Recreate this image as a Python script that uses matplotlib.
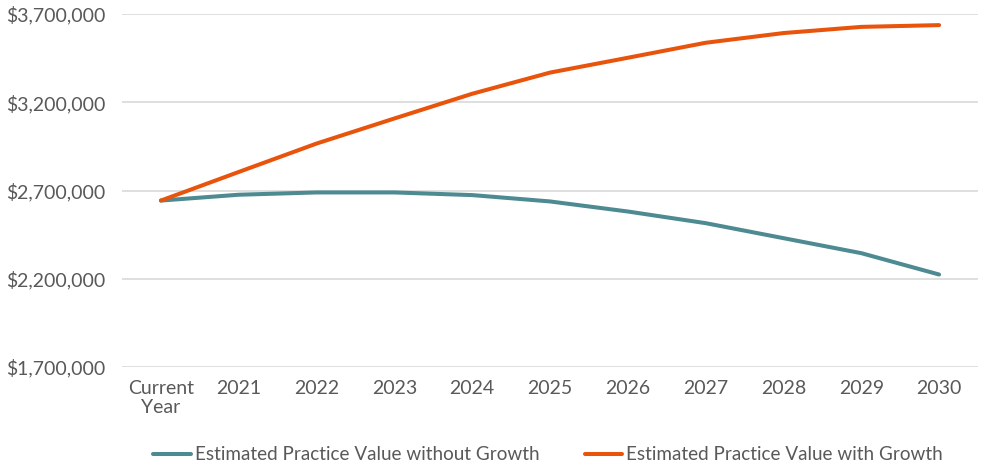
import numpy as np
import matplotlib.pyplot as plt
from matplotlib.ticker import FuncFormatter

# values
categories = ['Current\nYear', '2021', '2022', '2023', '2024', '2025',
              '2026', '2027', '2028', '2029', '2030']
without_growth = [2643000, 2676000, 2689000, 2689000, 2674000, 2638000,
                  2581000, 2515000, 2430000, 2345000, 2224000]
with_growth = [2643000, 2805000, 2966000, 3108000, 3248000, 3368000,
               3452000, 3537000, 3592000, 3627000, 3637000]
labels = ['Estimated Practice Value without Growth',
          'Estimated Practice Value with Growth']

plt.rcParams['font.family'] = ['Lato', 'DejaVu Sans']
txt = '#595959'

fig = plt.figure(figsize=(9.84, 4.68), dpi=100)
ax = fig.add_axes([122/984, 1 - 367/468, (978 - 122)/984, (367 - 14)/468])

x = np.arange(len(categories))
ax.plot(x, without_growth, color='#4E8A91', lw=2.9, solid_capstyle='round',
        solid_joinstyle='round', label=labels[0], zorder=3)
ax.plot(x, with_growth, color='#E9540D', lw=2.9, solid_capstyle='round',
        solid_joinstyle='round', label=labels[1], zorder=3)

ax.set_xlim(-0.5, len(categories) - 0.5)
ax.set_ylim(1700000, 3700000)
ax.set_yticks(np.arange(1700000, 3700001, 500000))
ax.yaxis.set_major_formatter(FuncFormatter(lambda v, p: '${:,.0f}'.format(v)))
ax.set_xticks(x)
ax.set_xticklabels(categories)

ax.grid(axis='y', color='#D9D9D9', lw=1.2)
ax.set_axisbelow(True)
for s in ax.spines.values():
    s.set_visible(False)
ax.tick_params(axis='both', length=0, labelsize=14, colors=txt)
ax.tick_params(axis='y', pad=12)
ax.tick_params(axis='x', pad=9)

fig.legend(loc='center', bbox_to_anchor=(548/984, 1 - 455/468), ncol=2,
           frameon=False, fontsize=13.6, labelcolor=txt, handlelength=2.0,
           handletextpad=0.2, columnspacing=2.4)

fig.savefig('out.png', dpi=100)
